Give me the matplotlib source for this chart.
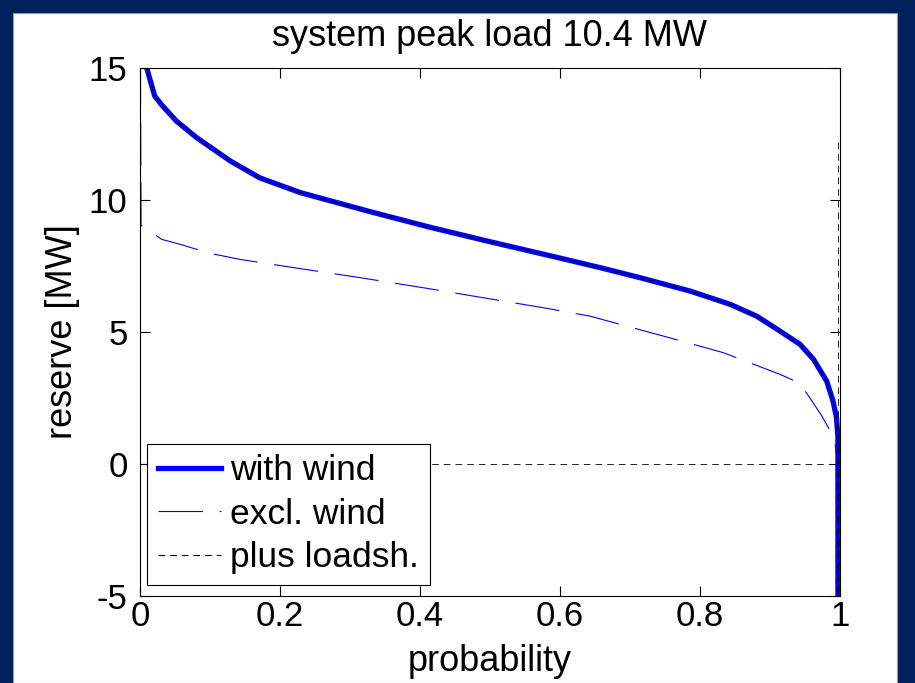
import numpy as np
import matplotlib.pyplot as plt
from matplotlib.patches import Rectangle

# reserve duration curves
p_wind = [0.004, 0.0096, 0.021, 0.031, 0.052, 0.081, 0.129, 0.171, 0.229, 0.33, 0.414,
          0.5, 0.6, 0.657, 0.714, 0.786, 0.843, 0.881, 0.914, 0.943, 0.962, 0.981,
          0.99, 0.995, 0.997, 0.997]
r_wind = [17.0, 15.0, 13.94, 13.6, 12.99, 12.36, 11.48, 10.84, 10.28, 9.55, 8.97,
          8.42, 7.8, 7.44, 7.06, 6.55, 6.05, 5.6, 5.04, 4.53, 3.97, 3.14,
          2.39, 1.75, 1.0, -5.0]

p_excl = [0.0, 0.0015, 0.031, 0.06, 0.081, 0.1, 0.143, 0.229, 0.314, 0.404, 0.49,
          0.576, 0.643, 0.747, 0.833, 0.914, 0.936, 0.952, 0.974, 0.986, 0.993, 0.997]
r_excl = [20.0, 9.04, 8.51, 8.3, 8.13, 7.98, 7.75, 7.4, 7.06, 6.68, 6.3,
          5.92, 5.6, 4.85, 4.22, 3.4, 3.14, 2.7, 1.82, 1.25, 0.75, 0.0]

# load shedding: same curve plus the zero line and the step at p=1
p_zero = [0.0, 1.0]
r_zero = [0.0, 0.0]
p_step = [0.997, 0.997]
r_step = [12.2, -5.0]

plt.rcParams['font.family'] = ['Liberation Sans', 'DejaVu Sans']
plt.rcParams['axes.unicode_minus'] = False

fig = plt.figure(figsize=(9.15, 6.83), dpi=100)
fig.patch.set_facecolor('#00205e')
bg = Rectangle((13/915, 0), (897-13)/915, (683-13)/683,
               transform=fig.transFigure, facecolor='white',
               edgecolor='#999999', lw=0.8, zorder=-10)
fig.patches.append(bg)

ax = fig.add_axes([140/915, 87/683, 700/915, 528/683])
ax.set_zorder(5)

ax.plot(p_wind, r_wind, color='#0000ff', lw=3.8, label='with wind', solid_joinstyle='round')
ax.plot(p_excl, r_excl, color='#0000ff', lw=0.8, dashes=(40, 15), label='excl. wind')
ax.plot(p_wind, r_wind, color='k', lw=0.8, dashes=(6, 4.5), label='plus loadsh.')
ax.plot(p_zero, r_zero, color='k', lw=0.6, dashes=(8, 6))
ax.plot(p_step, r_step, color='k', lw=0.6, dashes=(8, 6))

ax.set_xlim(0, 1)
ax.set_ylim(-5, 15)
ax.set_xticks([0, 0.2, 0.4, 0.6, 0.8, 1])
ax.set_xticklabels(['0', '0.2', '0.4', '0.6', '0.8', '1'])
ax.set_yticks([-5, 0, 5, 10, 15])
ax.tick_params(direction='in', top=True, right=True, length=7, width=0.8,
               labelsize=25)
ax.tick_params(axis='x', pad=3)
ax.tick_params(axis='y', pad=9)
for s in ax.spines.values():
    s.set_linewidth(0.8)

ax.set_title('system peak load 10.4 MW', fontsize=26, pad=16)
ax.set_xlabel('probability', fontsize=26, labelpad=8)
ax.set_ylabel('reserve [MW]', fontsize=26, labelpad=6)

leg = ax.legend(loc='lower left', bbox_to_anchor=(7/700, 11/528), borderaxespad=0,
                fontsize=25.5, frameon=True, fancybox=False,
                edgecolor='k', framealpha=1,
                handlelength=1.8, handletextpad=0.25, labelspacing=0.3,
                borderpad=0.3)
leg.get_frame().set_linewidth(0.8)

fig.savefig('out.png', dpi=100, facecolor=fig.get_facecolor())
